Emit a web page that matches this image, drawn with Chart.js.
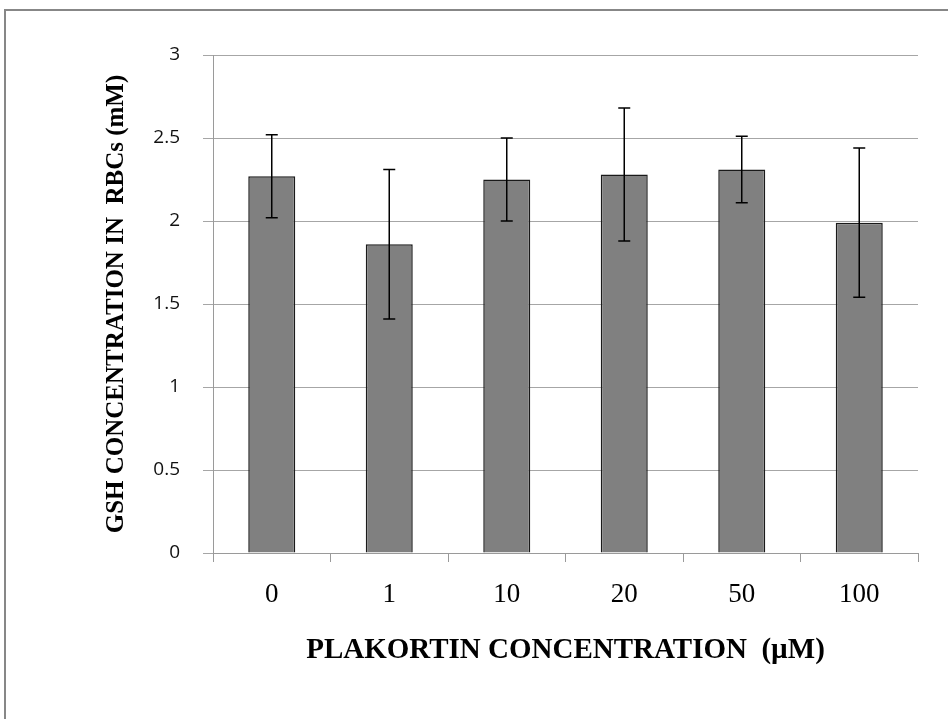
<!DOCTYPE html>
<html>
<head>
<meta charset="utf-8">
<script src="https://cdn.jsdelivr.net/npm/chart.js@4"></script>
<style>
  html, body { margin: 0; padding: 0; background: #fff; }
  #wrap { width: 948px; height: 719px; position: relative; }
</style>
</head>
<body>
<div id="wrap"><canvas id="chart"></canvas></div>
<script>
// concentrations (µM) on the x axis
const concentrations = ["0", "1", "10", "20", "50", "100"];
// mean GSH concentration (mM)
const gshMeans = [2.27, 1.86, 2.25, 2.28, 2.31, 1.99];
// error bar half-widths (mM)
const gshErrors = [0.25, 0.45, 0.25, 0.40, 0.20, 0.45];
const yTicks = [0, 0.5, 1, 1.5, 2, 2.5, 3];

// frame round the whole picture
const framePlugin = {
  id: "frame",
  beforeDraw(chart) {
    const c = chart.ctx;
    c.save();
    c.fillStyle = "#fff";
    c.fillRect(0, 0, chart.width, chart.height);
    c.strokeStyle = "#878787";
    c.lineWidth = 2;
    c.strokeRect(5, 10, 1000, 800);
    c.restore();
  }
};

// error bars drawn through the y scale
const errorBarPlugin = {
  id: "errorBars",
  afterDatasetsDraw(chart) {
    const c = chart.ctx;
    const yScale = chart.scales.y;
    const meta = chart.getDatasetMeta(0);
    c.save();
    c.strokeStyle = "#000";
    c.lineWidth = 1.5;
    meta.data.forEach((bar, i) => {
      const x = bar.x;
      const top = yScale.getPixelForValue(gshMeans[i] + gshErrors[i]);
      const bot = yScale.getPixelForValue(gshMeans[i] - gshErrors[i]);
      c.beginPath();
      c.moveTo(x, top); c.lineTo(x, bot);
      c.moveTo(x - 6, top); c.lineTo(x + 6, top);
      c.moveTo(x - 6, bot); c.lineTo(x + 6, bot);
      c.stroke();
    });
    c.restore();
  }
};

new Chart(document.getElementById("chart"), {
  type: "bar",
  data: {
    labels: concentrations,
    datasets: [{
      data: gshMeans,
      backgroundColor: "#808080",
      borderColor: "#1a1a1a",
      borderWidth: 1.5,
      barPercentage: 0.4,
      categoryPercentage: 1.0
    }]
  },
  options: {
    responsive: true,
    maintainAspectRatio: false,
    animation: false,
    layout: { padding: { left: 102, right: 30, top: 55, bottom: 51 } },
    plugins: {
      legend: { display: false },
      tooltip: { enabled: false }
    },
    scales: {
      x: {
        afterFit: s => { s.height = 115; },
        grid: { drawOnChartArea: false, drawTicks: true, tickLength: 9, color: "#9a9a9a", offset: true },
        border: { color: "#9a9a9a" },
        ticks: { color: "#000", padding: 17, font: { family: "Liberation Serif", size: 27 } },
        title: {
          display: true,
          text: "PLAKORTIN CONCENTRATION  (\u00b5M)",
          color: "#000",
          padding: 0,
          font: { family: "Liberation Serif", size: 29, weight: "bold" }
        }
      },
      y: {
        min: 0,
        max: 3,
        afterFit: s => { s.width = 111; },
        afterBuildTicks: s => { s.ticks = yTicks.map(v => ({ value: v })); },
        grid: { color: "#a6a6a6", tickLength: 10 },
        border: { color: "#9a9a9a" },
        ticks: {
          color: "#111",
          padding: 23,
          font: { family: "Open Sans", size: 19 },
          callback: v => String(v)
        },
        title: {
          display: true,
          text: "GSH CONCENTRATION IN  RBCs (mM)",
          color: "#000",
          padding: 0,
          font: { family: "Liberation Serif", size: 25, weight: "bold" }
        }
      }
    }
  },
  plugins: [framePlugin, errorBarPlugin]
});
</script>
</body>
</html>
